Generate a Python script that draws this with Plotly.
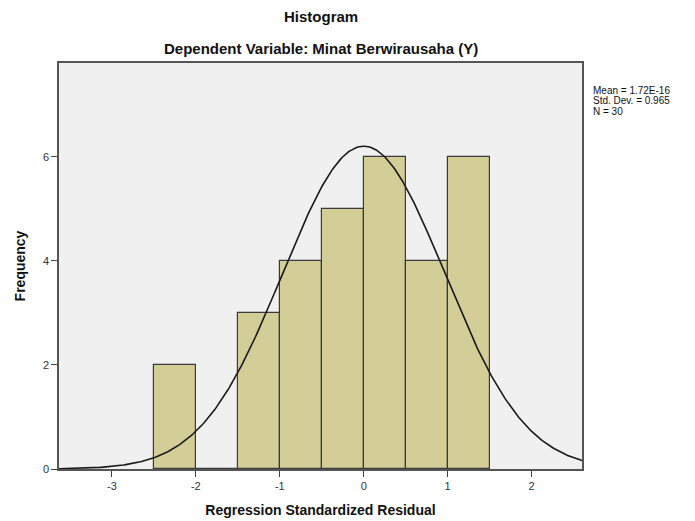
import numpy as np
import plotly.graph_objects as go

bin_left = [-2.5, -2.0, -1.5, -1.0, -0.5, 0.0, 0.5, 1.0]
counts = [2, 0, 3, 4, 5, 6, 4, 6]
bin_width = 0.5
mean_val = 1.72e-16
sd_val = 0.965
n_val = 30
x_ticks = [-3, -2, -1, 0, 1, 2]
y_ticks = [0, 2, 4, 6]
stats_lines = ["Mean = 1.72E-16", "Std. Dev. = 0.965", "N = 30"]

centers = [b + bin_width / 2 for b in bin_left]

xs = np.linspace(-3.63, 2.6, 400)
ys = n_val * bin_width * np.exp(-0.5 * ((xs - mean_val) / sd_val) ** 2) / (sd_val * np.sqrt(2 * np.pi))

fig = go.Figure()
fig.add_trace(go.Bar(
    x=centers, y=counts, width=bin_width,
    marker=dict(color="#D3CE97", line=dict(color="#3a3a3a", width=1.2)),
    hoverinfo="x+y",
))
fig.add_trace(go.Scatter(x=xs, y=ys, mode="lines", line=dict(color="#1a1a1a", width=1.6), hoverinfo="skip"))

font = "Liberation Sans, Arial, sans-serif"
annots = [
    dict(text="<b>Histogram</b>", xref="paper", yref="paper", x=0.5, y=1, yshift=47,
         showarrow=False, font=dict(size=15, color="#111"), xanchor="center", yanchor="middle"),
    dict(text="<b>Dependent Variable: Minat Berwirausaha (Y)</b>", xref="paper", yref="paper",
         x=0.5, y=1, yshift=15, showarrow=False, font=dict(size=15, color="#111"),
         xanchor="center", yanchor="middle"),
]
for i, s in enumerate(stats_lines):
    annots.append(dict(text=s, xref="paper", yref="paper", x=1, y=1, xshift=9, yshift=-27 - 10.5 * i,
                       showarrow=False, align="left", xanchor="left", yanchor="middle",
                       font=dict(size=10, color="#111")))

fig.update_layout(
    width=695, height=521,
    margin=dict(l=51, r=121, t=55, b=60),
    paper_bgcolor="white", plot_bgcolor="#F0F0F0",
    showlegend=False, bargap=0,
    font=dict(family=font, color="#222"),
    xaxis=dict(range=[-3.63, 2.6], tickvals=x_ticks, ticktext=[str(v) for v in x_ticks],
               ticks="outside", ticklen=6, tickcolor="#444", showgrid=False, zeroline=False,
               showline=True, linecolor="#555", linewidth=1.5, mirror=True, automargin=False,
               tickfont=dict(size=11, color="#333"),
               title=dict(text="<b>Regression Standardized Residual</b>", font=dict(size=14, color="#111"), standoff=14)),
    yaxis=dict(range=[0, 7.8], tickvals=y_ticks, ticks="outside", ticklen=6, tickcolor="#444",
               showgrid=False, zeroline=False, showline=True, linecolor="#555", linewidth=1.5, mirror=True,
               automargin=False,
               tickfont=dict(size=11, color="#333"),
               title=dict(text="<b>Frequency</b>", font=dict(size=14, color="#111"), standoff=14)),
    annotations=annots,
)
fig.write_html("out.html")
